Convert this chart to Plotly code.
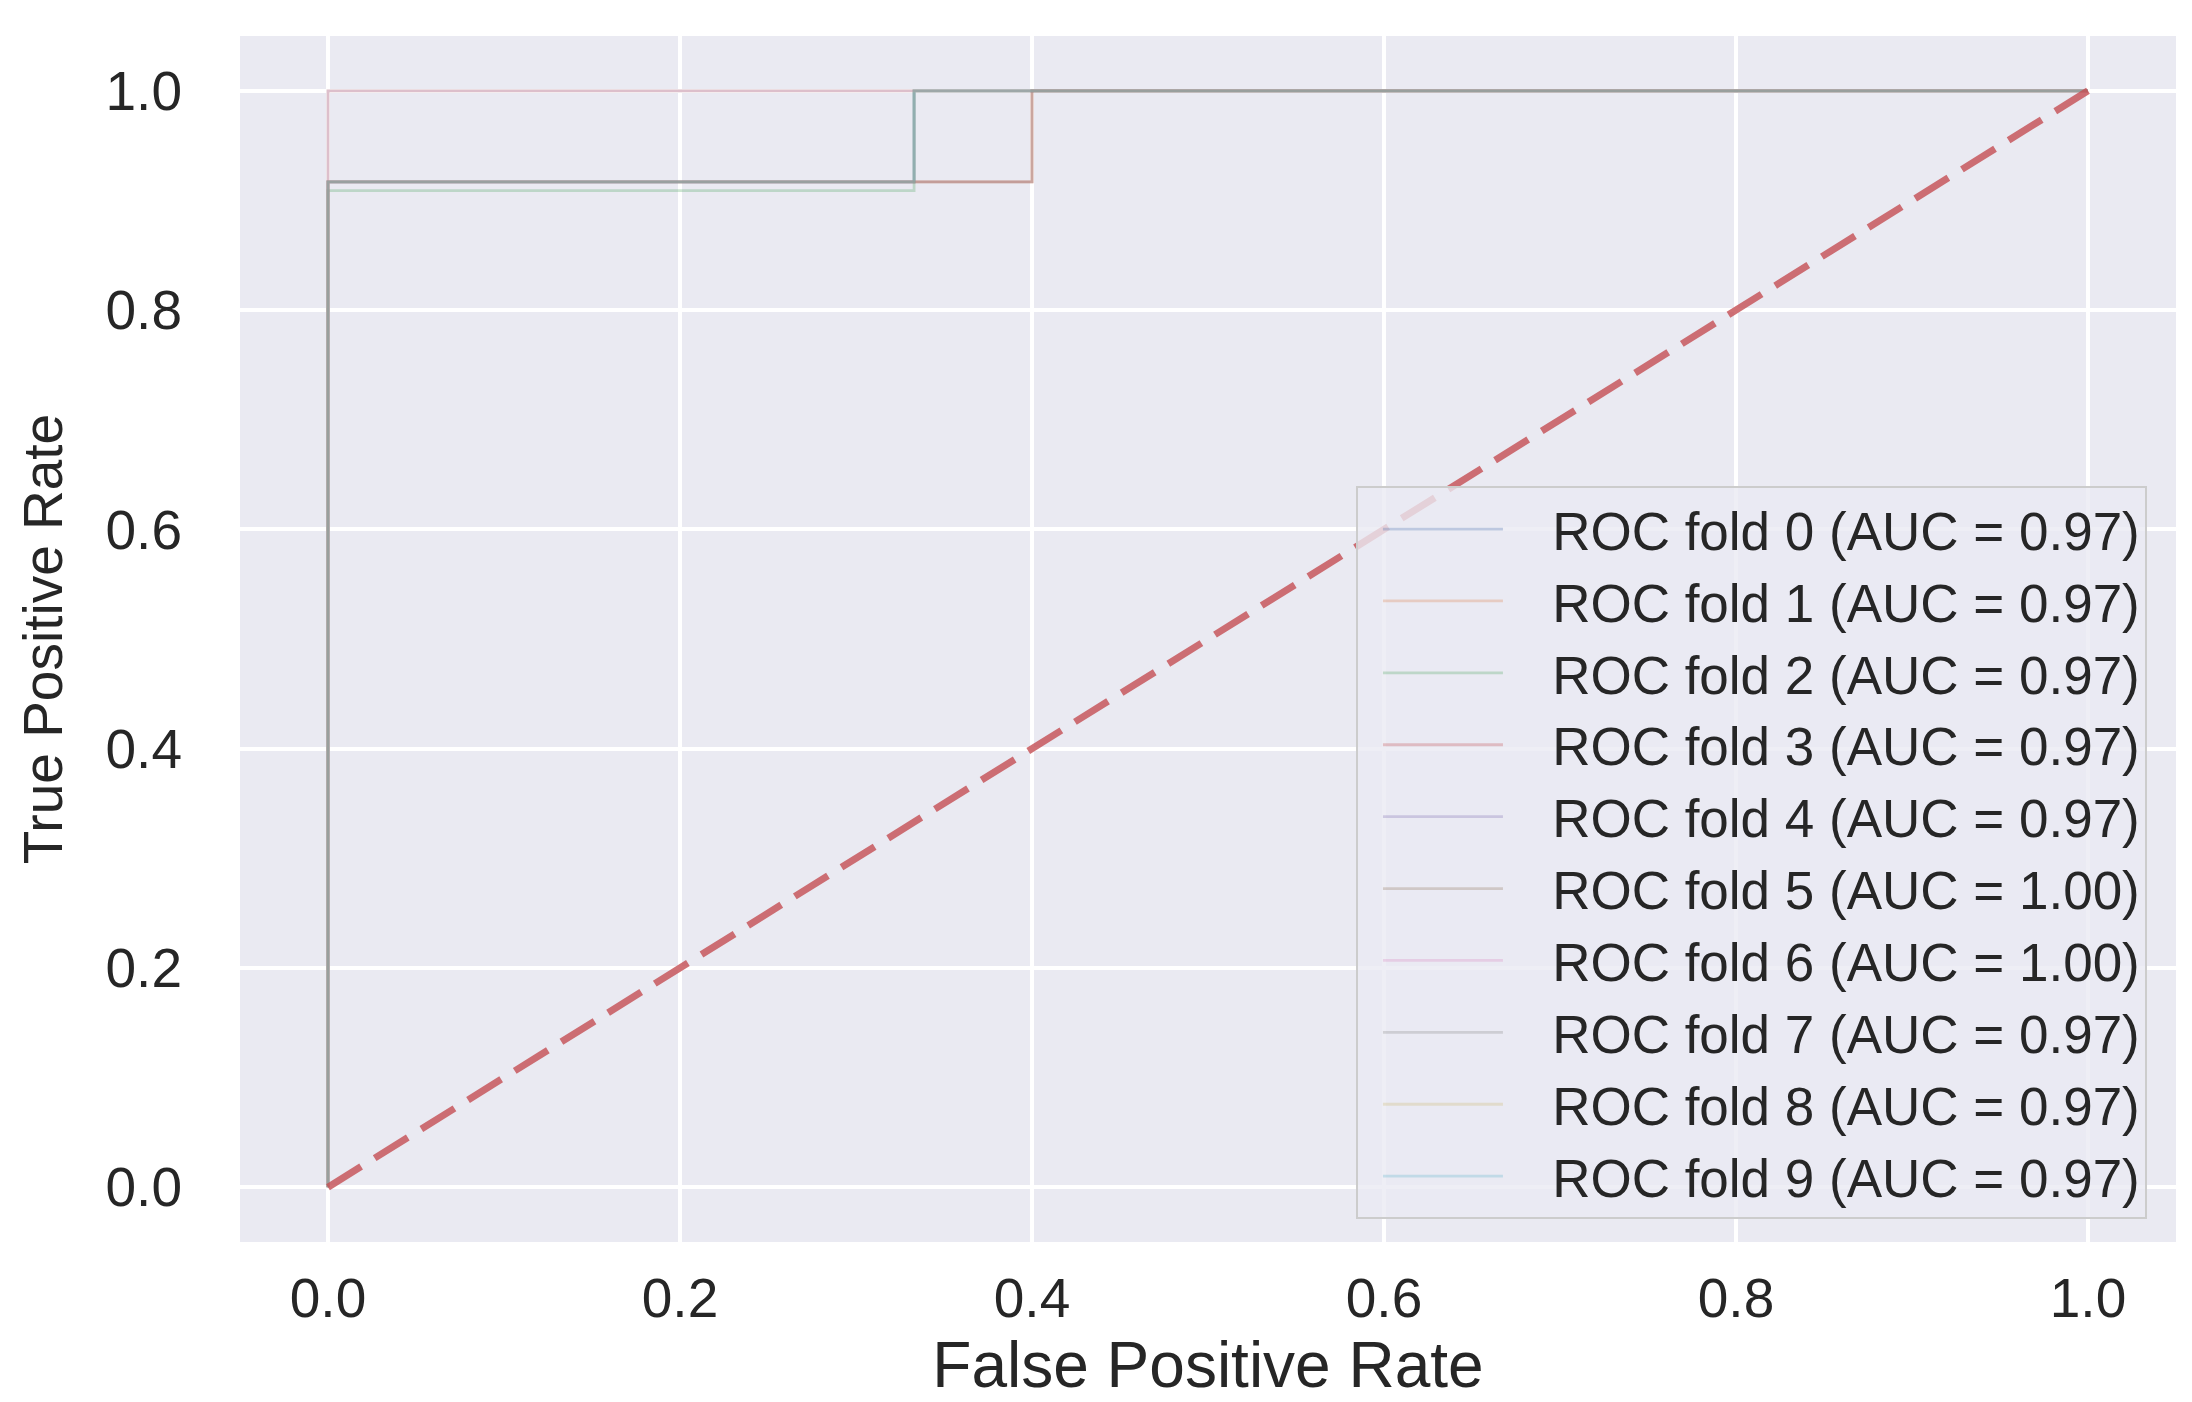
import plotly.graph_objects as go

# ---- data ----
fold_names = [f"ROC fold {i}" for i in range(10)]
auc_values = [0.97, 0.97, 0.97, 0.97, 0.97, 1.00, 1.00, 0.97, 0.97, 0.97]
fold_fpr = [
    [0.0, 0.0, 0.333, 0.333, 1.0],
    [0.0, 0.0, 0.4, 0.4, 1.0],
    [0.0, 0.0, 0.333, 0.333, 1.0],
    [0.0, 0.0, 0.4, 0.4, 1.0],
    [0.0, 0.0, 0.333, 0.333, 1.0],
    [0.0, 0.0, 1.0],
    [0.0, 0.0, 1.0],
    [0.0, 0.0, 0.4, 0.4, 1.0],
    [0.0, 0.0, 0.333, 0.333, 1.0],
    [0.0, 0.0, 0.333, 0.333, 1.0],
]
fold_tpr = [
    [0.0, 0.917, 0.917, 1.0, 1.0],
    [0.0, 0.917, 0.917, 1.0, 1.0],
    [0.0, 0.909, 0.909, 1.0, 1.0],
    [0.0, 0.917, 0.917, 1.0, 1.0],
    [0.0, 0.917, 0.917, 1.0, 1.0],
    [0.0, 1.0, 1.0],
    [0.0, 1.0, 1.0],
    [0.0, 0.917, 0.917, 1.0, 1.0],
    [0.0, 0.917, 0.917, 1.0, 1.0],
    [0.0, 0.917, 0.917, 1.0, 1.0],
]
chance_x = [0.0, 1.0]
chance_y = [0.0, 1.0]
tick_vals = [0.0, 0.2, 0.4, 0.6, 0.8, 1.0]
tick_text = ["0.0", "0.2", "0.4", "0.6", "0.8", "1.0"]

# seaborn "deep" palette at alpha 0.3
fold_colors = [
    "rgba(76,114,176,0.3)", "rgba(221,132,82,0.3)", "rgba(85,168,104,0.3)",
    "rgba(196,78,82,0.3)", "rgba(129,114,179,0.3)", "rgba(147,120,96,0.3)",
    "rgba(218,139,195,0.3)", "rgba(140,140,140,0.3)", "rgba(204,185,116,0.3)",
    "rgba(100,181,205,0.3)",
]

FONT = "Liberation Sans, Arial, sans-serif"
TXT = "#262626"
PAD = "\u00a0\u00a0\u00a0"

fig = go.Figure()
for name, auc, xs, ys, col in zip(fold_names, auc_values, fold_fpr, fold_tpr, fold_colors):
    fig.add_trace(go.Scatter(
        x=xs, y=ys, mode="lines",
        name=f"{PAD}{name} (AUC = {auc:.2f})",
        line=dict(color=col, width=2.8),
    ))

fig.add_trace(go.Scatter(
    x=chance_x, y=chance_y, mode="lines", showlegend=False,
    line=dict(color="rgba(196,78,82,0.8)", width=7, dash="39px,16px"),
))

axis_common = dict(
    range=[-0.05, 1.05],
    tickvals=tick_vals, ticktext=tick_text,
    showgrid=True, gridcolor="white", gridwidth=3.5,
    zeroline=False, showline=False,
    ticks="",
    tickfont=dict(family=FONT, size=55, color=TXT),
)

fig.update_layout(
    width=2192, height=1402,
    margin=dict(l=232, r=24, t=28, b=168, autoexpand=False),
    paper_bgcolor="white",
    plot_bgcolor="#EAEAF2",
    font=dict(family=FONT, color=TXT),
    xaxis=dict(**axis_common, ticklabelstandoff=19,
               title=dict(text="False Positive Rate", standoff=7,
                          font=dict(family=FONT, size=64, color=TXT))),
    yaxis=dict(**axis_common, ticklabelstandoff=57,
               title=dict(text="True Positive Rate", standoff=25,
                          font=dict(family=FONT, size=55, color=TXT))),
    legend=dict(
        x=0.985, y=0.019, xanchor="right", yanchor="bottom",
        bgcolor="rgba(234,234,242,0.8)", bordercolor="#CCCCCC", borderwidth=2,
        font=dict(family=FONT, size=53, color=TXT),
        itemwidth=120, tracegroupgap=0, indentation=20,
    ),
)

fig.write_html("out.html")
